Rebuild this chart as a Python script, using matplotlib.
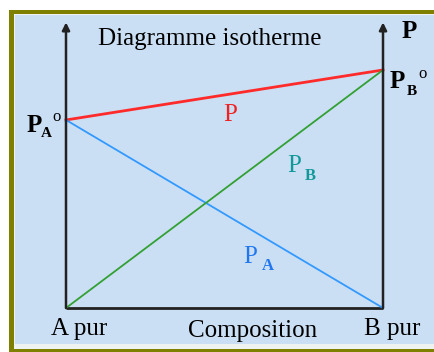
import matplotlib.pyplot as plt
from matplotlib.patches import Rectangle

# Diagramme isotherme : pressions partielles et totale
composition = [0.0, 1.0]          # A pur -> B pur
PA0 = 0.79                        # pression de vapeur de A pur
PB0 = 1.0                         # pression de vapeur de B pur
p_total = [PA0, PB0]
p_A = [PA0, 0.0]
p_B = [0.0, PB0]

plt.rcParams['font.family'] = ['Liberation Serif', 'DejaVu Serif']

fig = plt.figure(figsize=(4.35, 3.52), dpi=100)
fig.patch.set_facecolor('white')

# cadre olive + fond bleu clair
fig.patches.append(Rectangle((9/435, 0), 1, 342/352, transform=fig.transFigure,
                             facecolor='#808000', edgecolor='none', zorder=-3))
fig.patches.append(Rectangle((14/435, 3/352), 1, 335/352, transform=fig.transFigure,
                             facecolor='#EEF2F0', edgecolor='none', zorder=-2))
fig.patches.append(Rectangle((15/435, 8/352), 1, 329/352, transform=fig.transFigure,
                             facecolor='#CADFF4', edgecolor='none', zorder=-1))

ax = fig.add_axes([0, 0, 1, 1])
ax.set_zorder(1)
ax.set_xlim(-0.2082, 1.164)
ax.set_ylim(-0.1849, 1.294)
ax.axis('off')
ax.patch.set_alpha(0)

# axes
for x0 in composition:
    ax.annotate('', xy=(x0, 1.2), xytext=(x0, 0),
                arrowprops=dict(arrowstyle='-|>', lw=1.8, color='#222222',
                                mutation_scale=11, shrinkA=0, shrinkB=0))
ax.plot(composition, [0, 0], color='#222222', lw=2, solid_capstyle='butt')

ax.plot(composition, p_total, color='#FF2A2A', lw=2)
ax.plot(composition, p_A, color='#3399FF', lw=1.3)
ax.plot(composition, p_B, color='#33A033', lw=1.3)

fs = 18
ax.text(0.454, 1.105, 'Diagramme isotherme', ha='center', va='baseline', fontsize=fs)
ax.text(1.060, 1.134, 'P', ha='left', va='baseline', fontsize=fs, fontweight='bold')

ax.text(1.022, 0.924, 'P', ha='left', va='baseline', fontsize=fs, fontweight='bold')
ax.text(1.074, 0.895, 'B', ha='left', va='baseline', fontsize=11, fontweight='bold')
ax.text(1.126, 0.983, 'o', ha='center', va='center', fontsize=12)

ax.text(-0.123, 0.739, 'P', ha='left', va='baseline', fontsize=fs, fontweight='bold')
ax.text(-0.078, 0.718, 'A', ha='left', va='baseline', fontsize=11, fontweight='bold')
ax.text(-0.030, 0.803, 'o', ha='center', va='center', fontsize=12)

ax.text(0.517, 0.786, 'P', ha='center', va='baseline', fontsize=fs, color='#EE2222')

ax.text(0.558, 0.189, 'P', ha='left', va='baseline', fontsize=fs, color='#2277EE')
ax.text(0.618, 0.160, 'A', ha='left', va='baseline', fontsize=12, fontweight='bold', color='#2277EE')

ax.text(0.697, 0.571, 'P', ha='left', va='baseline', fontsize=fs, color='#119999')
ax.text(0.754, 0.538, 'B', ha='left', va='baseline', fontsize=12, fontweight='bold', color='#119999')

ax.text(0.041, -0.113, 'A pur', ha='center', va='baseline', fontsize=fs)
ax.text(0.587, -0.122, 'Composition', ha='center', va='baseline', fontsize=fs)
ax.text(1.028, -0.113, 'B pur', ha='center', va='baseline', fontsize=fs)

fig.savefig('out.png', dpi=100)
